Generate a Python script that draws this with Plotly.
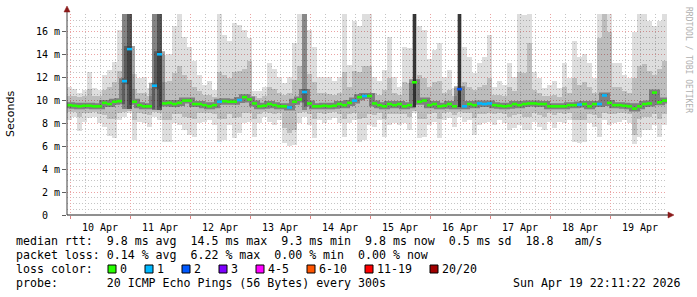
import plotly.graph_objects as go
from datetime import datetime, timedelta

# ---------------- data ----------------
START = datetime(2026, 4, 9, 22, 48)
STEP_H = 2  # hours per sample

median = [9.6, 9.55, 9.5, 9.55, 9.55, 9.5, 9.5, 9.8, 9.7, 9.9,
          9.95, 11.7, 14.5, 9.9, 9.6, 9.5, 9.5, 11.3, 14.05, 9.75,
          9.8, 9.7, 9.8, 10.0, 10.0, 9.7, 9.7, 9.6, 9.5, 9.6,
          9.9, 9.95, 9.9, 9.9, 10.05, 10.3, 10.1, 9.75, 9.5, 9.55,
          9.7, 9.6, 9.5, 9.5, 9.4, 9.9, 10.1, 10.75, 9.75, 9.5,
          9.5, 9.55, 9.5, 9.55, 9.7, 9.6, 9.8, 10.0, 10.3, 10.4,
          10.4, 9.75, 9.6, 9.5, 9.7, 9.6, 9.7, 9.5, 9.6, 11.6,
          9.9, 10.0, 9.6, 9.7, 9.5, 9.55, 9.7, 9.5, 11.0, 9.5,
          9.7, 9.6, 9.75, 9.7, 9.75, 9.6, 9.55, 9.5, 9.55, 9.7,
          9.6, 9.7, 9.75, 9.75, 9.7, 9.7, 9.5, 9.5, 9.5, 9.5,
          9.6, 9.6, 9.65, 9.7, 9.5, 9.7, 9.7, 10.45, 9.8, 9.6,
          9.6, 9.55, 9.5, 9.3, 9.5, 9.7, 9.75, 10.7, 9.85, 10.0]

loss = [0, 0, 0, 0, 0, 0, 0, 0, 0, 0,
        0, 1, 1, 0, 0, 0, 0, 1, 1, 0,
        0, 0, 0, 0, 0, 0, 0, 0, 0, 0,
        1, 0, 0, 0, 1, 0, 0, 0, 0, 0,
        0, 0, 0, 0, 1, 0, 0, 1, 0, 0,
        0, 0, 0, 0, 0, 0, 0, 1, 0, 1,
        0, 0, 0, 0, 0, 0, 0, 0, 0, 0,
        0, 0, 0, 0, 0, 0, 0, 0, 2, 1,
        0, 0, 1, 1, 1, 0, 0, 0, 0, 0,
        0, 0, 0, 0, 0, 0, 0, 0, 0, 0,
        0, 0, 1, 0, 0, 0, 1, 1, 0, 0,
        0, 0, 0, 0, 0, 0, 0, 0, 0, 0]

ping_max = [11.2, 11.0, 10.7, 10.9, 12.5, 11.1, 10.9, 12.2, 12.7, 13.4,
            16.2, 18, 18, 12.3, 12.0, 12.1, 11.1, 18, 18, 14.0,
            14.1, 16.5, 18, 15.6, 14.7, 13.5, 12.2, 11.4, 11.7, 10.9,
            18, 15.7, 15.2, 16.8, 16.6, 16.2, 15.5, 10.8, 10.8, 11.2,
            13.3, 12.8, 12.1, 11.5, 12.1, 15.0, 18, 18, 16.2, 14.7,
            12.1, 12.1, 12.1, 11.7, 12.1, 18, 13.1, 17.0, 16.5, 18,
            18, 12.1, 11.7, 12.7, 15.6, 12.1, 11.2, 14.7, 14.6, 18,
            16.5, 16.2, 13.6, 14.4, 15.0, 12.1, 12.7, 11.1, 18, 14.7,
            13.8, 12.4, 13.3, 13.8, 15.7, 11.2, 11.7, 11.4, 13.3, 12.1,
            18, 17.5, 18, 12.5, 12.0, 11.1, 11.4, 11.7, 11.1, 13.3,
            12.0, 15.2, 13.8, 14.1, 13.3, 12.0, 18, 18, 18, 13.3,
            13.3, 12.2, 12.0, 16.0, 18, 18, 17.0, 16.5, 17.0, 18]

ping_min = [8.3, 8.6, 7.3, 8.15, 8.45, 8.6, 8.0, 7.7, 6.9, 6.7,
            8.3, 8.6, 8.9, 6.55, 8.15, 8.0, 7.7, 8.6, 8.3, 6.4,
            6.4, 8.0, 7.9, 7.4, 7.0, 6.85, 8.0, 8.15, 8.3, 7.9,
            6.4, 6.55, 7.9, 6.7, 7.15, 8.0, 8.15, 6.85, 8.0, 8.6,
            8.15, 7.9, 8.3, 6.3, 6.0, 6.1, 8.0, 8.6, 7.9, 6.7,
            8.3, 8.0, 8.3, 8.45, 8.0, 6.85, 8.0, 8.3, 6.4, 6.55,
            7.9, 7.7, 8.3, 6.85, 7.9, 8.0, 7.9, 8.0, 7.4, 8.9,
            6.7, 6.85, 7.9, 8.15, 6.7, 8.3, 8.45, 7.7, 8.6, 8.15,
            8.3, 7.0, 7.9, 8.0, 8.15, 7.9, 8.3, 8.0, 7.4, 7.6,
            7.9, 7.4, 7.4, 8.15, 7.7, 7.4, 8.15, 7.6, 8.15, 8.0,
            8.3, 6.4, 6.3, 6.4, 8.0, 7.7, 6.85, 8.3, 7.9, 8.0,
            8.15, 8.3, 8.0, 6.2, 6.8, 7.4, 7.4, 7.9, 6.85, 7.9]

ping_q_hi = [10.4, 10.4, 10.3, 10.4, 11.0, 10.4, 10.4, 10.9, 11.2, 11.6,
             12.6, 18, 18, 11.0, 10.7, 10.7, 10.4, 18, 18, 11.6,
             11.7, 12.4, 13.0, 12.2, 11.8, 11.2, 10.8, 10.5, 10.5, 10.3,
             12.5, 12.2, 12.0, 12.5, 12.6, 12.8, 13.5, 10.4, 10.2, 10.4,
             11.2, 11.0, 10.7, 10.5, 10.7, 11.8, 13.0, 18, 12.3, 11.6,
             10.7, 10.7, 10.6, 10.5, 10.7, 12.5, 11.2, 12.6, 12.5, 13.0,
             13.0, 10.7, 10.5, 10.9, 12.0, 10.7, 10.5, 11.6, 11.5, 18,
             12.2, 12.0, 11.2, 11.6, 11.7, 10.7, 10.9, 10.4, 18, 11.6,
             11.2, 10.9, 11.2, 11.4, 12.0, 10.5, 10.5, 10.4, 11.2, 10.8,
             12.5, 12.4, 15.0, 10.9, 10.7, 10.4, 10.4, 10.5, 10.3, 11.2,
             10.7, 12.0, 11.4, 11.6, 11.2, 10.7, 15.5, 18, 16.0, 11.2,
             11.2, 10.8, 10.7, 12.0, 13.0, 13.2, 12.6, 12.2, 12.8, 13.5]

ping_q_lo = [9.0, 9.0, 8.6, 8.9, 8.9, 9.0, 8.8, 8.7, 8.4, 8.4,
             8.9, 9.0, 9.1, 8.3, 8.9, 8.8, 8.7, 9.0, 8.9, 8.3,
             8.3, 8.8, 8.8, 8.6, 8.5, 8.4, 8.9, 8.9, 8.9, 8.8,
             8.4, 8.4, 8.8, 8.5, 8.6, 8.9, 8.9, 8.4, 8.8, 9.0,
             8.9, 8.8, 8.9, 7.6, 7.2, 7.4, 8.9, 9.0, 8.8, 8.4,
             8.9, 8.8, 8.9, 9.0, 8.8, 8.4, 8.8, 8.9, 8.4, 8.5,
             8.8, 8.7, 8.9, 8.4, 8.8, 8.8, 8.8, 8.8, 8.6, 9.1,
             8.4, 8.4, 8.8, 8.9, 8.4, 8.9, 9.0, 8.7, 9.0, 8.9,
             8.9, 8.5, 8.8, 8.8, 8.9, 8.8, 8.9, 8.8, 8.6, 8.7,
             8.8, 8.6, 8.6, 8.9, 8.7, 8.6, 8.9, 8.7, 8.9, 8.8,
             8.9, 8.3, 8.3, 8.3, 8.8, 8.7, 8.5, 8.9, 8.8, 8.8,
             8.9, 8.9, 8.8, 7.0, 8.4, 8.6, 8.6, 8.8, 8.4, 8.8]

spike_idx = [11, 12, 17, 18, 47, 69, 78]
spike_bot = [9.3, 9.3, 9.2, 9.2, 9.2, 9.4, 9.4]
spike_top = [18, 18, 18, 18, 18, 18, 18]

y_tick_vals = [0, 2, 4, 6, 8, 10, 12, 14, 16]
y_tick_text = ["0\u00a0\u00a0", "2 m", "4 m", "6 m", "8 m", "10 m", "12 m", "14 m", "16 m"]

loss_labels = ["0", "1", "2", "3", "4-5", "6-10", "11-19", "20/20"]
loss_colors = ["#26ff00", "#00b8ff", "#0059ff", "#7e00ff", "#ff00ff", "#ff5500", "#ff0000", "#a10000"]

stats_rtt = "median rtt:  9.8 ms avg  14.5 ms max  9.3 ms min  9.8 ms now  0.5 ms sd  18.8   am/s"
stats_loss = "packet loss: 0.14 % avg  6.22 % max  0.00 % min  0.00 % now"
loss_title = "loss color:"
probe_line = "probe:       20 ICMP Echo Pings (56 Bytes) every 300s"
stamp = "Sun Apr 19 22:11:22 2026"

# ---------------- style ----------------
spike_alpha = [0.3, 0.55, 0.3, 0.55, 0.28, 0.7, 0.7]
spike_width_h = [2, 2, 2, 2, 2, 1, 1]
MONO = "DejaVu Sans Mono"

N = len(median)
edges = [START + timedelta(hours=STEP_H * i) for i in range(N + 1)]
centers = [START + timedelta(hours=STEP_H * i + STEP_H / 2) for i in range(N)]
W_MS = STEP_H * 3600 * 1000
END = edges[-1]

fig = go.Figure()

# smoke: full range
fig.add_trace(go.Bar(x=centers, y=[a - b for a, b in zip(ping_max, ping_min)], base=ping_min,
                     width=W_MS, marker=dict(color="rgba(0,0,0,0.13)", line=dict(width=0)),
                     hoverinfo="skip", showlegend=False))
# smoke: inner range
fig.add_trace(go.Bar(x=centers, y=[a - b for a, b in zip(ping_q_hi, ping_q_lo)], base=ping_q_lo,
                     width=W_MS, marker=dict(color="rgba(0,0,0,0.15)", line=dict(width=0)),
                     hoverinfo="skip", showlegend=False))
# dark spike columns
fig.add_trace(go.Bar(x=[centers[i] for i in spike_idx],
                     y=[t - b for t, b in zip(spike_top, spike_bot)], base=spike_bot,
                     width=[w * 3600 * 1000 for w in spike_width_h],
                     marker=dict(color=[f"rgba(0,0,0,{a})" for a in spike_alpha], line=dict(width=0)),
                     hoverinfo="skip", showlegend=False))
# dense core around the median (its vertical steps give the dark connectors)
fig.add_trace(go.Scatter(x=edges, y=median + [median[-1]], mode="lines", line_shape="hv",
                         line=dict(color="rgba(40,40,40,0.42)", width=6),
                         hoverinfo="skip", showlegend=False))


def loss_class(n):
    if n <= 3:
        return n
    if n <= 5:
        return 4
    if n <= 10:
        return 5
    if n <= 19:
        return 6
    return 7


classes = [loss_class(v) for v in loss]
for c in sorted(set(classes)):
    xs, ys = [], []
    for k in range(N):
        if classes[k] == c:
            xs += [edges[k], edges[k + 1], None]
            ys += [median[k], median[k], None]
    fig.add_trace(go.Scatter(x=xs, y=ys, mode="lines",
                             line=dict(color=loss_colors[c], width=2.6),
                             connectgaps=False, hoverinfo="skip", showlegend=False))

# ---------------- layout helpers ----------------
PL, PR, PT, PB = 67, 667, 14, 215


def px(x):
    return (x - PL) / (PR - PL)


def py(y):
    return (PB - y) / (PB - PT)


shapes = [
    dict(type="line", xref="paper", yref="paper", x0=0, x1=0, y0=0, y1=py(9),
         line=dict(color="#404040", width=1)),
    dict(type="line", xref="paper", yref="paper", x0=0, x1=px(671), y0=0, y1=0,
         line=dict(color="#202020", width=1)),
    dict(type="path", xref="paper", yref="paper",
         path=f"M {px(64)} {py(12)} L {px(70)} {py(12)} L {px(67)} {py(6)} Z",
         fillcolor="#8b1a1a", line=dict(color="#8b1a1a", width=0.5)),
    dict(type="path", xref="paper", yref="paper",
         path=f"M {px(668)} {py(212)} L {px(668)} {py(218)} L {px(674)} {py(215)} Z",
         fillcolor="#8b1a1a", line=dict(color="#8b1a1a", width=0.5)),
]

annotations = []


def text_at(x, y, s, size=11.6, color="#000000", anchor="left", family=MONO, angle=0):
    annotations.append(dict(xref="paper", yref="paper", x=px(x), y=py(y), text=s,
                            showarrow=False, xanchor=anchor, yanchor="middle",
                            textangle=angle, borderpad=0,
                            font=dict(family=family, size=size, color=color)))


text_at(15, 241, stats_rtt)
text_at(15, 255, stats_loss)
text_at(15, 269, loss_title)
text_at(15, 283, probe_line)
text_at(682, 283, stamp, anchor="right")

# loss colour legend boxes
CH = 7.0
bx = 108
for lab, col in zip(loss_labels, loss_colors):
    shapes.append(dict(type="rect", xref="paper", yref="paper",
                       x0=px(bx), x1=px(bx + 8), y0=py(273), y1=py(265),
                       fillcolor=col, line=dict(color="#000000", width=1)))
    text_at(bx + 11, 269, lab)
    bx = bx + 12 + CH * len(lab) + 18

# axis title and watermark
text_at(11, 114, "Seconds", size=11, family="DejaVu Sans", anchor="center", angle=-90)
text_at(688, 60, "RRDTOOL / TOBI OETIKER", size=8, color="#b0b0b0", anchor="center", angle=90)

fig.update_layout(
    width=697, height=297,
    margin=dict(l=PL, r=697 - PR, t=PT, b=297 - PB, pad=0),
    paper_bgcolor="#ffffff", plot_bgcolor="#ffffff",
    barmode="overlay", bargap=0, showlegend=False,
    shapes=shapes, annotations=annotations,
    xaxis=dict(type="date", range=[START, END], dtick=86400000, tick0="2026-04-10 00:00",
               ticklabelmode="period", tickformat="%d %b",
               showgrid=True, gridcolor="#eba3a3", griddash="1px,2px", gridwidth=1,
               minor=dict(dtick=6 * 3600 * 1000, showgrid=True, gridcolor="#c4c4c4",
                          griddash="1px,2px", ticks=""),
               ticks="outside", ticklen=3, tickcolor="#e08080",
               showline=False, zeroline=False,
               tickfont=dict(family=MONO, size=10, color="#000000")),
    yaxis=dict(range=[0, (PB - PT) / 11.44], tickmode="array", tickvals=y_tick_vals,
               ticktext=y_tick_text, showgrid=True, gridcolor="#eba3a3", griddash="1px,2px",
               minor=dict(dtick=0.5, tick0=0, showgrid=True, gridcolor="#c4c4c4",
                          griddash="1px,2px", ticks=""),
               ticks="outside", ticklen=4, tickcolor="#606060",
               showline=False, zeroline=False,
               tickfont=dict(family=MONO, size=10, color="#000000")),
)

fig.write_html("out.html")
